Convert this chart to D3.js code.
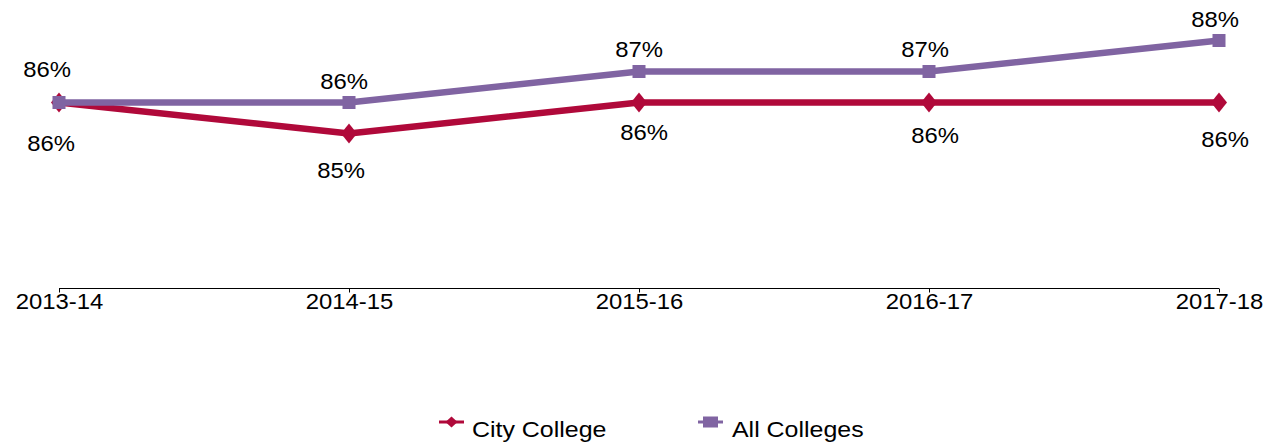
<!DOCTYPE html>
<html><head><meta charset="utf-8">
<script src="https://cdn.jsdelivr.net/npm/d3@7"></script>
<style>body{margin:0;background:#fff}svg{display:block}text{font-family:"Liberation Sans",Arial,sans-serif}</style>
</head><body><svg id="c" width="1270" height="445"></svg>
<script>
const categories = ["2013-14","2014-15","2015-16","2016-17","2017-18"];
const cityCollege = [86, 85, 86, 86, 86];
const allColleges = [86, 86, 87, 87, 88];
const seriesNames = ["City College", "All Colleges"];

// layout (label offsets relative to points)
const cityLabelOffsets = [[-8,48],[-8,44],[5,37],[6,40],[6,44]];
const allLabelOffsets = [[-12,-26],[-5,-14],[0,-15],[-4,-15],[-4,-14]];
const colors = ["#B0093A", "#8064A2"];
const FS = 21.5, SX = 1.11;

const svg = d3.select("#c");
const x = d3.scalePoint().domain(categories).range([59, 1219]);
const y = d3.scaleLinear().domain([80, 89]).range([288.5, 9.5]);

svg.append("g").attr("transform","translate(0,288.5)")
  .call(d3.axisBottom(x).tickSize(4))
  .call(g=>{g.select(".domain").attr("stroke","#000").attr("d","M59,0H1219");
    g.selectAll("line").attr("stroke","#000");
    g.selectAll("text").attr("font-size",FS).attr("fill","#000").attr("y",20.5).attr("dy",0)
      .attr("transform",`scale(${SX},1)`);});

const line = d3.line().x((d,i)=>x(categories[i])).y(d=>y(d));
const diamond = "M0,-10L8,0L0,10L-8,0Z";

function drawSeries(vals, color, kind){
  svg.append("path").datum(vals).attr("d",line).attr("fill","none")
    .attr("stroke",color).attr("stroke-width",6.5).attr("stroke-linejoin","round");
  const g = svg.append("g");
  vals.forEach((v,i)=>{
    const px=x(categories[i]), py=y(v);
    if(kind==="diamond") g.append("path").attr("d",diamond).attr("transform",`translate(${px},${py})`).attr("fill",color);
    else g.append("rect").attr("x",px-6.5).attr("y",py-6.5).attr("width",13).attr("height",13).attr("fill",color);
  });
}
drawSeries(cityCollege, colors[0], "diamond");
drawSeries(allColleges, colors[1], "square");

function labels(vals, offs){
  vals.forEach((v,i)=>{
    svg.append("text").attr("transform",`translate(${x(categories[i])+offs[i][0]},${y(v)+offs[i][1]}) scale(${SX},1)`)
      .attr("text-anchor","middle").attr("font-size",FS).attr("fill","#000").text(v+"%");
  });
}
labels(cityCollege, cityLabelOffsets);
labels(allColleges, allLabelOffsets);

// legend
const legX = [439, 698];
seriesNames.forEach((n,i)=>{
  const g = svg.append("g").attr("transform",`translate(${legX[i]},422)`);
  g.append("line").attr("x1",0).attr("x2",25).attr("stroke",colors[i]).attr("stroke-width",3);
  if(i===0) g.append("path").attr("d","M0,-5.5L6,0L0,5.5L-6,0Z").attr("transform","translate(12.5,0)").attr("fill",colors[i]);
  else g.append("rect").attr("x",5).attr("y",-5.5).attr("width",15).attr("height",11).attr("fill",colors[i]);
  g.append("text").attr("transform",`translate(${i===0?33:34},15) scale(1.16,1)`)
    .attr("font-size",FS).attr("fill","#000").text(n);
});
</script></body></html>
